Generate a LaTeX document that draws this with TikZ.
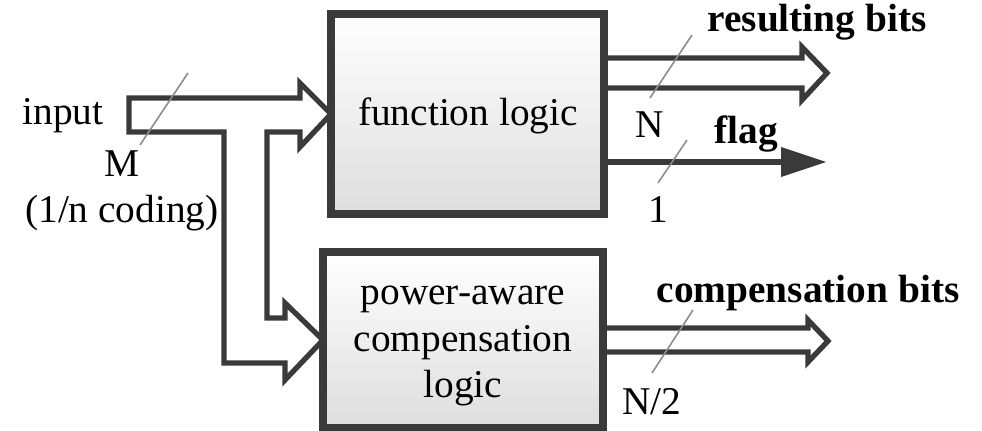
\documentclass[tikz,border=0pt]{standalone}
\usepackage{fontspec}
\setmainfont{Liberation Serif}
\usetikzlibrary{calc,arrows.meta}
\definecolor{linegray}{RGB}{58,58,58}
\begin{document}
\begin{tikzpicture}[x=0.02cm,y=-0.02cm,
  txt/.style={font=\fontsize{22.4}{26.1}\selectfont, inner sep=0pt, anchor=base},
  btxt/.style={txt, font=\fontsize{22.4}{26.1}\selectfont\bfseries},
  logicbox/.style={draw=linegray, line width=4.8pt, top color=white,
    bottom color=black!13, inner sep=0pt},
  pipe/.style={draw=linegray, line width=3pt, line join=miter, fill=white},
  flagline/.style={draw=linegray, line width=3.4pt,
    -{Triangle[length=0.9cm,width=0.6cm,line width=0pt]}},
  slash/.style={draw=black!45, line width=0.9pt}]
\clip (0,0) rectangle (982,431);
\useasboundingbox (0,0) rectangle (982,431);

% anchor points of the two logic blocks (the buses refer to them)
\path (467.5,114) coordinate (flc) (463,340) coordinate (plc);
\path (flc) ++(-136.5,0) coordinate (flw) ++(273,0) coordinate (fle);
\path (plc) ++(-140,0) coordinate (plw) ++(280,0) coordinate (ple);

% input bus splitting into both blocks
\draw[pipe] (129,98) -- (300,98) -- (300,83) -- (flw) -- (300,147)
  -- (300,132) -- (267,132) -- (267,318) -- (285,318) -- (285,303)
  -- (plw) -- (285,380) -- (285,363) -- (224,363) -- (224,132)
  -- (129,132) -- cycle;

% output buses
\draw[pipe] ($(fle)+(0,-56)$) -- (802,58) -- (802,47) -- (827,73)
  -- (802,100) -- (802,88) -- ($(fle)+(0,-26)$);
\coordinate (flagtip) at (826,162);
\draw[flagline] ($(fle)+(0,48)$) -- (flagtip);
\draw[pipe] ($(ple)+(0,-12)$) -- (808,328) -- (808,320) -- (828,341)
  -- (808,362) -- (808,352) -- ($(ple)+(0,12)$);

% the logic blocks
\node[logicbox, minimum width=5.46cm, minimum height=4cm] (fl) at (flc) {};
\node[logicbox, minimum width=5.6cm, minimum height=3.52cm] (pl) at (plc) {};
\node[txt] (tfl) at (468,126) {function logic};
\node[txt] (tpl1) at (463,305) {power-aware};
\node[txt] (tpl2) at (463,352) {compensation};
\node[txt] (tpl3) at (463,398) {logic};

% bus width marks
\draw[slash] (188,73) -- (140,145);
\draw[slash] (692,35) -- (650,98);
\draw[slash] (687,140) -- (658,183);
\draw[slash] (693,310) -- (652,373);

% labels
\node[txt] (lin) at (63,125) {input};
\node[txt] (lm) at (122,177) {M};
\node[txt] (lcod) at (122,223) {(1/n coding)};
\node[btxt] (lres) at (817,32) {resulting bits};
\node[txt] (ln) at (650,138) {N};
\node[btxt] (lflag) at (746,144) {flag};
\node[txt] (lone) at (658,223) {1};
\node[btxt] (lcomp) at (808,303) {compensation bits};
\node[txt] (lhalf) at (652,415) {N/2};
\end{tikzpicture}
\end{document}
